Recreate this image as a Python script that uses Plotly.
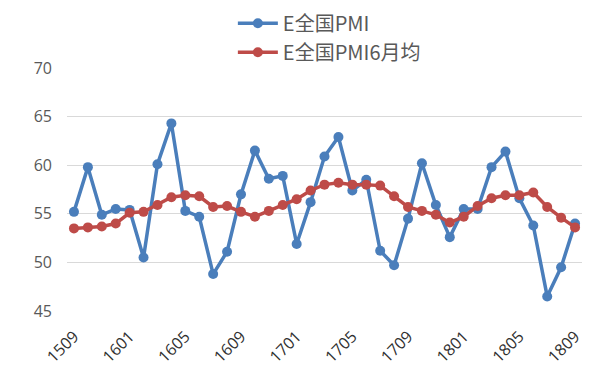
import plotly.graph_objects as go

months = ["1509", "1510", "1511", "1512",
          "1601", "1602", "1603", "1604", "1605", "1606", "1607", "1608", "1609", "1610", "1611", "1612",
          "1701", "1702", "1703", "1704", "1705", "1706", "1707", "1708", "1709", "1710", "1711", "1712",
          "1801", "1802", "1803", "1804", "1805", "1806", "1807", "1808", "1809"]

pmi = [55.2, 59.8, 54.9, 55.5,
       55.4, 50.5, 60.1, 64.3, 55.3, 54.7, 48.8, 51.1, 57.0, 61.5, 58.6, 58.9,
       51.9, 56.2, 60.9, 62.9, 57.4, 58.5, 51.2, 49.7, 54.5, 60.2, 55.9, 52.6,
       55.5, 55.5, 59.8, 61.4, 56.6, 53.8, 46.5, 49.5, 54.0]

pmi_6m = [53.5, 53.6, 53.7, 54.0,
          55.1, 55.2, 55.9, 56.7, 56.9, 56.8, 55.7, 55.8, 55.2, 54.7, 55.3, 55.9,
          56.5, 57.4, 58.0, 58.2, 58.0, 58.0, 57.9, 56.8, 55.7, 55.3, 54.9, 54.1,
          54.7, 55.8, 56.6, 56.9, 56.9, 57.2, 55.7, 54.6, 53.6]

tick_labels = ["1509", "1601", "1605", "1609", "1701", "1705", "1709", "1801", "1805", "1809"]
y_ticks = [45, 50, 55, 60, 65, 70]

names = ["E全国PMI", "E全国PMI6月均"]
colors = ["#4A7EBB", "#BE4B48"]

fig = go.Figure()
for i, (nm, vals, c) in enumerate(zip(names, [pmi, pmi_6m], colors)):
    fig.add_trace(go.Scatter(
        x=months, y=vals, name=nm, mode="lines+markers",
        line=dict(color=c, width=3.5),
        marker=dict(color=c, size=10),
        legendgroup="g%d" % i,
    ))

font_family = "Open Sans, DejaVu Sans, sans-serif"
legend_font = "Noto Sans CJK SC, Open Sans, sans-serif"
fig.update_layout(
    width=608, height=380,
    margin=dict(l=67, r=26, t=68, b=69, autoexpand=False),
    paper_bgcolor="white", plot_bgcolor="white",
    showlegend=True,
    legend=dict(
        orientation="v", xref="container", yref="container",
        x=0.383, xanchor="left", y=0.99, yanchor="top",
        font=dict(family=legend_font, size=20, color="#595959"),
        tracegroupgap=0, itemwidth=40,
        bgcolor="rgba(0,0,0,0)",
    ),
    xaxis=dict(
        type="category", range=[-0.5, len(months) - 0.5], automargin=False,
        tickmode="array", tickvals=tick_labels, ticktext=tick_labels,
        tickangle=-45, showgrid=False, zeroline=False, showline=False,
        tickfont=dict(family=font_family, size=16, color="#303030"),
        ticks="", ticklabelstandoff=12,
    ),
    yaxis=dict(
        range=[45, 70], tickvals=y_ticks, showgrid=True, gridcolor="#D9D9D9", gridwidth=1,
        zeroline=False, showline=False, ticks="", automargin=False,
        tickfont=dict(family=font_family, size=16, color="#595959"),
        ticklabelstandoff=14,
    ),
)

fig.write_html("out.html", config={"displayModeBar": False},
               post_script="document.body.style.margin='0';")
